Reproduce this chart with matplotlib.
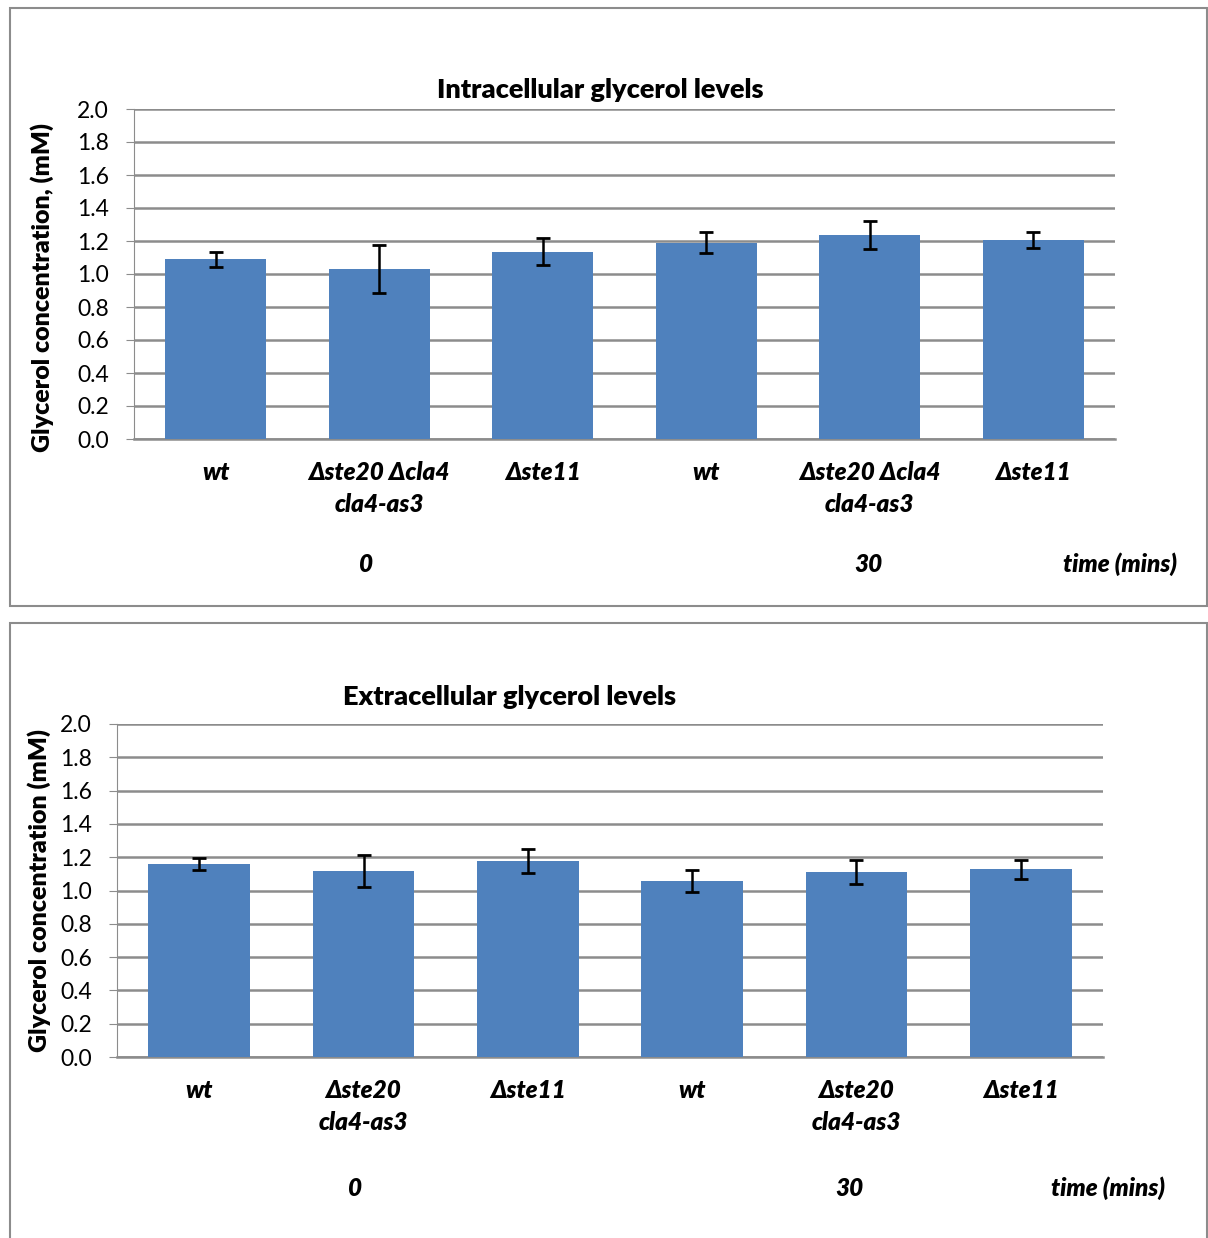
import numpy as np
import matplotlib
matplotlib.use("Agg")
import matplotlib.pyplot as plt
from matplotlib.patches import Rectangle

# -----------------------------
# Data
# -----------------------------
intra_labels = ["wt", "Δste20 Δcla4\ncla4-as3", "Δste11", "wt", "Δste20 Δcla4\ncla4-as3", "Δste11"]
intra_vals = [1.09, 1.03, 1.135, 1.19, 1.237, 1.206]
intra_err = [0.045, 0.145, 0.083, 0.062, 0.087, 0.05]

extra_labels = ["wt", "Δste20\ncla4-as3", "Δste11", "wt", "Δste20\ncla4-as3", "Δste11"]
extra_vals = [1.16, 1.117, 1.175, 1.058, 1.109, 1.127]
extra_err = [0.035, 0.097, 0.072, 0.065, 0.072, 0.059]

time_labels = ["0", "30"]
yticks = np.arange(0, 2.01, 0.2)

BAR_COLOR = "#4F81BD"
GRID_COLOR = "#8C8C8C"

plt.rcParams["font.family"] = ["Lato", "DejaVu Sans"]

fig = plt.figure(figsize=(12.08, 12.38), dpi=100)

# panel frames
fig.patches.append(Rectangle((10 / 1208, 1 - 606 / 1238), 1197 / 1208, 598 / 1238,
                             transform=fig.transFigure, fill=False,
                             edgecolor="#8C8C8C", linewidth=1.5))
fig.patches.append(Rectangle((10 / 1208, -0.01), 1197 / 1208, 1 - 623 / 1238 + 0.01,
                             transform=fig.transFigure, fill=False,
                             edgecolor="#8C8C8C", linewidth=1.5))


def draw_panel(ax, labels, vals, err, title, title_x, title_pad, ylabel,
               ylabel_pos, group_x, time_y):
    x = np.arange(len(vals))
    ax.bar(x, vals, width=0.62, color=BAR_COLOR, zorder=3)
    ax.errorbar(x, vals, yerr=err, fmt="none", ecolor="black",
                elinewidth=1.8, capsize=5, capthick=2, zorder=4)
    ax.set_xlim(-0.5, len(vals) - 0.5)
    ax.set_ylim(0, 2.0)
    ax.set_yticks(yticks)
    ax.set_yticklabels([f"{v:.1f}" for v in yticks], fontsize=16.5)
    ax.yaxis.grid(True, color=GRID_COLOR, linewidth=1.8, zorder=0)
    ax.set_axisbelow(True)
    for s in ["top", "right"]:
        ax.spines[s].set_visible(False)
    ax.spines["left"].set_color(GRID_COLOR)
    ax.spines["bottom"].set_color(GRID_COLOR)
    ax.spines["bottom"].set_linewidth(1.8)
    ax.tick_params(axis="y", length=6, color=GRID_COLOR, pad=12)
    ax.set_xticks(x)
    ax.set_xticklabels(labels, fontsize=17.5, fontweight="heavy", style="italic",
                       linespacing=1.45)
    ax.tick_params(axis="x", length=0, pad=16)
    ax.set_ylabel(ylabel, fontsize=18, fontweight="heavy")
    ax.yaxis.set_label_coords(*ylabel_pos)
    ax.set_title(title, fontsize=19.5, fontweight="heavy", pad=title_pad, x=title_x)
    for gx, lab in zip(group_x, time_labels):
        ax.text(gx, time_y, lab, transform=ax.get_xaxis_transform(),
                ha="center", va="center", fontsize=17.5, fontweight="heavy",
                style="italic")
    ax.text(5.53, time_y, "time (mins)", transform=ax.get_xaxis_transform(),
            ha="center", va="center", fontsize=17.5, fontweight="heavy",
            style="italic")


ax1 = fig.add_axes([134 / 1208, 1 - 439 / 1238, 981 / 1208, 330 / 1238])
draw_panel(ax1, intra_labels, intra_vals, intra_err,
           "Intracellular glycerol levels", 0.475, 8,
           "Glycerol concentration, (mM)", (-0.082, 0.46),
           [0.92, 3.99], -0.38)

ax2 = fig.add_axes([117 / 1208, 1 - 1057 / 1238, 986 / 1208, 333 / 1238])
draw_panel(ax2, extra_labels, extra_vals, extra_err,
           "Extracellular glycerol levels", 0.398, 14,
           "Glycerol concentration (mM)", (-0.067, 0.5),
           [0.95, 3.96], -0.395)

fig.savefig("out.png", dpi=100)
